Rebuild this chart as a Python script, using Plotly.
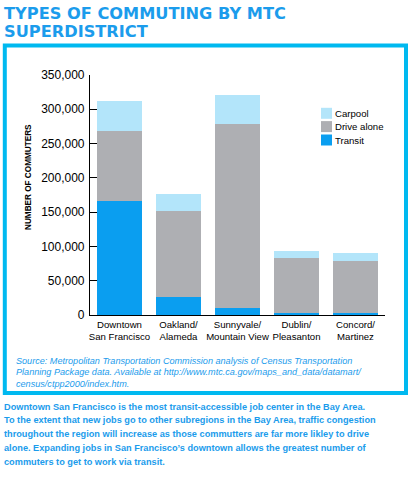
import plotly.graph_objects as go

# ---- data ----
categories = ["Downtown<br>San Francisco", "Oakland/<br>Alameda", "Sunnyvale/<br>Mountain View",
              "Dublin/<br>Pleasanton", "Concord/<br>Martinez"]
transit = [166000, 26500, 10500, 3000, 3000]
drive_alone = [102000, 125000, 268000, 80000, 76000]
carpool = [44000, 25000, 42000, 10500, 11500]
series_names = ["Transit", "Drive alone", "Carpool"]
series_values = [transit, drive_alone, carpool]
series_colors = ["#0A9EF0", "#AEAFB3", "#B3E5FA"]
y_tickvals = [0, 50000, 100000, 150000, 200000, 250000, 300000, 350000]
y_ticktext = ["0", "50,000", "100,000", "150,000", "200,000", "250,000", "300,000", "350,000"]

W, H = 417, 482
L, R, T, B = 90, 32, 75, 167
PW, PH = W - L - R, H - T - B


def px(x):
    return (x - L) / PW


def py(y):
    return (H - B - y) / PH


SANS = "Liberation Sans, Arial, sans-serif"
BLUE = "#1B9CEC"

fig = go.Figure()
for name, vals, col in zip(series_names, series_values, series_colors):
    fig.add_trace(go.Bar(x=categories, y=vals, name=name, marker=dict(color=col, line=dict(width=0)),
                         showlegend=False))

fig.update_layout(
    width=W, height=H,
    margin=dict(l=L, r=R, t=T, b=B, pad=0, autoexpand=False),
    paper_bgcolor="white", plot_bgcolor="white",
    barmode="stack", bargap=0.25,
    xaxis=dict(showline=True, linecolor="black", linewidth=1.1, ticks="", showgrid=False,
               tickangle=0, automargin=False,
               tickfont=dict(family=SANS, size=9.6, color="black"), zeroline=False),
    yaxis=dict(range=[0, 350000], tickvals=y_tickvals, ticktext=y_ticktext, showgrid=False,
               showline=True, linecolor="black", linewidth=1.1, ticks="inside", ticklen=7,
               tickcolor="black", tickwidth=1.1, zeroline=False, automargin=False,
               ticklabelstandoff=2,
               tickfont=dict(family=SANS, size=12, color="black")),
)

# frame
fig.add_shape(type="rect", xref="paper", yref="paper", x0=px(4.8), x1=px(406), y0=py(45.5), y1=py(393),
              line=dict(color="#00B9F0", width=4), fillcolor="rgba(0,0,0,0)", layer="below")

# manual legend (top to bottom: Carpool, Drive alone, Transit)
leg_rows = [113.3, 126.6, 140.0]
for (name, col), yc in zip(list(zip(series_names, series_colors))[::-1], leg_rows):
    fig.add_shape(type="rect", xref="paper", yref="paper", x0=px(321), x1=px(332),
                  y0=py(yc - 5.5), y1=py(yc + 5.5), line=dict(width=0), fillcolor=col)
    fig.add_annotation(xref="paper", yref="paper", x=px(333), y=py(yc), text=name, showarrow=False,
                       xanchor="left", yanchor="middle", font=dict(family=SANS, size=9.6, color="black"))

# y axis title
fig.add_annotation(xref="paper", yref="paper", x=px(28), y=py(177), text="NUMBER OF COMMUTERS",
                   textangle=-90, showarrow=False, xanchor="center", yanchor="middle",
                   font=dict(family=SANS, size=8.2, color="black", weight="bold"))

# title (two lines)
title_lines = ["TYPES OF COMMUTING BY MTC", "SUPERDISTRICT"]
for i, s in enumerate(title_lines):
    fig.add_annotation(xref="paper", yref="paper", x=px(2), y=py(13 + 18 * i), text=s,
                       showarrow=False, xanchor="left", yanchor="middle", align="left",
                       font=dict(family="DejaVu Sans, sans-serif", size=16.2, color=BLUE, weight="bold"))

# source
src_lines = ["Source: Metropolitan Transportation Commission analysis of Census Transportation",
             "Planning Package data. Available at http://www.mtc.ca.gov/maps_and_data/datamart/",
             "census/ctpp2000/index.htm."]
for i, s in enumerate(src_lines):
    fig.add_annotation(xref="paper", yref="paper", x=px(14), y=py(360.7 + 11.6 * i), text=s,
                       showarrow=False, xanchor="left", yanchor="middle",
                       font=dict(family=SANS, size=9.1, color=BLUE, style="italic"))

caption_lines = ["Downtown San Francisco is the most transit-accessible job center in the Bay Area.",
                 "To the extent that new jobs go to other subregions in the Bay Area, traffic congestion",
                 "throughout the region will increase as those commutters are far more likley to drive",
                 "alone. Expanding jobs in San Francisco\u2019s downtown allows the greatest number of",
                 "commuters to get to work via transit."]
for i, s in enumerate(caption_lines):
    fig.add_annotation(xref="paper", yref="paper", x=px(2), y=py(406.5 + 13.75 * i), text=s,
                       showarrow=False, xanchor="left", yanchor="middle",
                       font=dict(family=SANS, size=9.2, color=BLUE, weight="bold"))

fig.write_html("out.html", config={"displayModeBar": False},
               post_script="document.body.style.margin='0';")
